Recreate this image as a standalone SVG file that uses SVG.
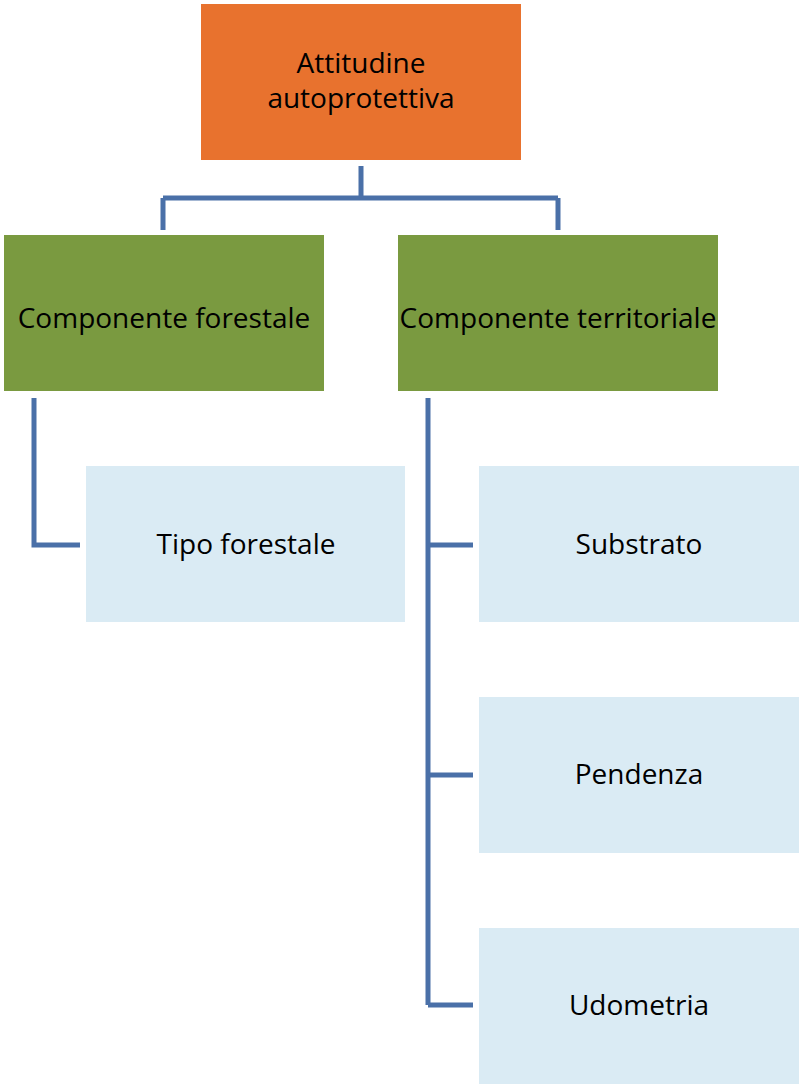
<svg xmlns="http://www.w3.org/2000/svg" width="799" height="1085" viewBox="0 0 799 1085">
<style>
.root{fill:#E8722E}
.mid{fill:#7A9A40}
.leaf{fill:#DAEBF4}
.t{font-family:"Open Sans","Noto Sans","Liberation Sans",sans-serif;font-size:28px;fill:#000;text-anchor:middle}
.c{fill:none;stroke:#4A70A8;stroke-width:5}
</style>
<rect width="799" height="1085" fill="#fff"/>
<g id="connectors">
<path class="c" d="M361 166V198M163 198H558M163 198V230M558 198V230"/>
<path class="c" d="M34 398V545H80"/>
<path class="c" d="M428 398V1005M428 545H473M428 775H473M428 1005H473"/>
</g>
<g id="n-root">
<rect class="root" x="201" y="4" width="320" height="156"/>
<text class="t" x="361" y="73">Attitudine</text>
<text class="t" x="361" y="108">autoprotettiva</text>
</g>
<g id="n-forestale">
<rect class="mid" x="4" y="235" width="320" height="156"/>
<text class="t" x="164" y="328">Componente forestale</text>
</g>
<g id="n-territoriale">
<rect class="mid" x="398" y="235" width="320" height="156"/>
<text class="t" x="558" y="328">Componente territoriale</text>
</g>
<g id="n-tipo">
<rect class="leaf" x="86" y="466" width="319" height="156"/>
<text class="t" x="246" y="554">Tipo forestale</text>
</g>
<g id="n-substrato">
<rect class="leaf" x="479" y="466" width="320" height="156"/>
<text class="t" x="639" y="554">Substrato</text>
</g>
<g id="n-pendenza">
<rect class="leaf" x="479" y="697" width="320" height="156"/>
<text class="t" x="639" y="784">Pendenza</text>
</g>
<g id="n-udometria">
<rect class="leaf" x="479" y="928" width="320" height="156"/>
<text class="t" x="639" y="1015">Udometria</text>
</g>
</svg>
